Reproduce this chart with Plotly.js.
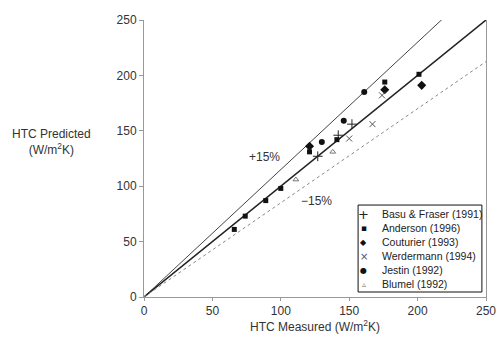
<!DOCTYPE html>
<html><head><meta charset="utf-8">
<script src="https://cdn.plot.ly/plotly-3.0.1.min.js"></script>
<style>body{margin:0;background:#fff}#c{width:499px;height:345px}</style>
</head><body><div id="c"></div>
<script>
// Data
const basuX = [127, 142, 152];
const basuY = [127, 146, 156];
const andersonX = [66, 74, 89, 100, 121, 141, 176, 201];
const andersonY = [61, 73, 87, 98, 131, 142, 194, 201];
const couturierX = [121, 176, 203];
const couturierY = [136, 187, 191];
const werdermannX = [150, 167, 174];
const werdermannY = [143, 156, 182];
const jestinX = [130, 146, 161];
const jestinY = [140, 159, 185];
const blumelX = [111, 138];
const blumelY = [106, 131];
const seriesNames = ['Basu & Fraser (1991)', 'Anderson (1996)', 'Couturier (1993)', 'Werdermann (1994)', 'Jestin (1992)', 'Blumel (1992)'];
const legendGlyphs = ['+', '\u25AA', '\u25C6', '\u00D7', '\u25CF', '\u25B5'];
const refSlopes = [1.15, 1.0, 0.85];
const refRange = [0, 250];
const tickVals = [0, 50, 100, 150, 200, 250];

const FAM = 'Liberation Sans, Arial, sans-serif';
const font = {family: FAM, size: 12, color: '#333'};
const refStyles = [
  {color: '#444', width: 1, dash: 'solid'},
  {color: '#222', width: 1.5, dash: 'solid'},
  {color: '#888', width: 1, dash: 'dot'}
];
const traces = refSlopes.map((s, i) => ({
  x: refRange, y: refRange.map(v => v * s), mode: 'lines', showlegend: false,
  line: refStyles[i], hoverinfo: 'skip'
}));
const markers = [
  {symbol: 'cross-thin-open', size: 7, color: '#222', line: {width: 1, color: '#222'}},
  {symbol: 'square', size: 5, color: '#111'},
  {symbol: 'diamond', size: 7, color: '#111'},
  {symbol: 'x-thin-open', size: 6, color: '#555', line: {width: 1, color: '#555'}},
  {symbol: 'circle', size: 6, color: '#111'},
  {symbol: 'triangle-up-open', size: 5, color: '#777', line: {width: 1, color: '#777'}}
];
const xs = [basuX, andersonX, couturierX, werdermannX, jestinX, blumelX];
const ys = [basuY, andersonY, couturierY, werdermannY, jestinY, blumelY];
seriesNames.forEach((n, i) => traces.push({x: xs[i], y: ys[i], name: n, mode: 'markers', type: 'scatter', showlegend: false, marker: markers[i]}));

// custom legend
const lgX0 = 0.626, lgX1 = 0.988, lgY0 = 0.018, lgY1 = 0.332;
const rowTop = 0.299, rowStep = 0.0505;
const annotations = [
  {xref: 'paper', yref: 'paper', x: -0.27, xanchor: 'center', y: 0.56, yanchor: 'middle',
    text: 'HTC Predicted<br>(W/m<sup>2</sup>K)', showarrow: false, font: font, align: 'center'},
  {x: 88, y: 126, text: '+15%', showarrow: false, font: font},
  {x: 126, y: 87, text: '\u221215%', showarrow: false, font: font}
];
const glyphColors = ['#222', '#111', '#111', '#555', '#111', '#777'];
const glyphSizes = [13, 9, 8, 10, 8, 8];
seriesNames.forEach((n, i) => {
  const yy = rowTop - i * rowStep;
  annotations.push({xref: 'paper', yref: 'paper', x: 0.643, xanchor: 'center', y: yy, yanchor: 'middle',
    text: legendGlyphs[i], showarrow: false, font: {family: 'DejaVu Sans', size: glyphSizes[i], color: glyphColors[i]}});
  annotations.push({xref: 'paper', yref: 'paper', x: 0.69, xanchor: 'left', y: yy, yanchor: 'middle',
    text: n, showarrow: false, font: {family: FAM, size: 10.5, color: '#222'}});
});

const layout = {
  width: 499, height: 345,
  margin: {l: 144, r: 13, t: 20, b: 48},
  paper_bgcolor: '#fff', plot_bgcolor: '#fff',
  font: font,
  showlegend: false,
  xaxis: {range: refRange, tickvals: tickVals, showgrid: false, zeroline: false,
    showline: true, linecolor: '#999', linewidth: 1, ticks: 'outside', ticklen: 3, tickcolor: '#999',
    title: {text: 'HTC Measured (W/m<sup>2</sup>K)', font: font, standoff: 5}},
  yaxis: {range: refRange, tickvals: tickVals, showgrid: false, zeroline: false,
    showline: true, mirror: true, linecolor: '#999', linewidth: 1, ticks: 'outside', ticklen: 4, tickcolor: '#999'},
  shapes: [{type: 'rect', xref: 'paper', yref: 'paper', x0: lgX0, x1: lgX1, y0: lgY0, y1: lgY1,
    line: {color: '#111', width: 1}, fillcolor: '#fff', layer: 'above'}],
  annotations: annotations
};
Plotly.newPlot('c', traces, layout, {displayModeBar: false, staticPlot: true});
</script></body></html>
